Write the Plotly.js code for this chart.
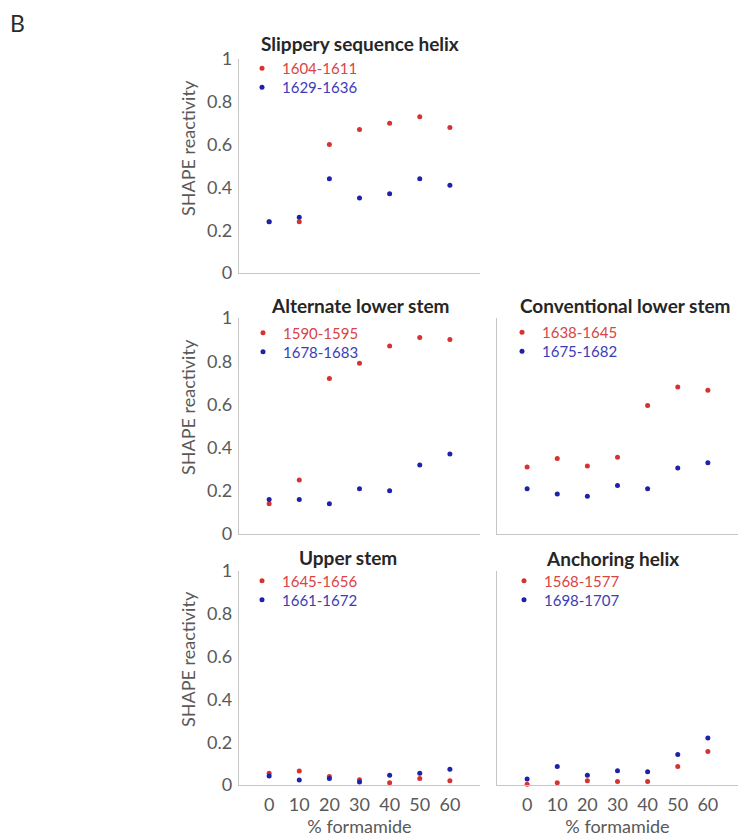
<!DOCTYPE html>
<html>
<head>
<meta charset="utf-8">
<script src="https://cdn.plot.ly/plotly-3.0.1.min.js"></script>
<style>html,body{margin:0;padding:0;background:#fff;}#chart{width:738px;height:839px;}</style>
</head>
<body>
<div id="chart"></div>
<script>
// ---------------- data ----------------
const formamide = [0, 10, 20, 30, 40, 50, 60];
const xTickLabels = ['0', '10', '20', '30', '40', '50', '60'];
const yTickVals = [0, 0.2, 0.4, 0.6, 0.8, 1];
const yTickLabels = ['0', '0.2', '0.4', '0.6', '0.8', '1'];

const panelTitles = ['Slippery sequence helix', 'Alternate lower stem', 'Conventional lower stem', 'Upper stem', 'Anchoring helix'];
const redNames  = ['1604-1611', '1590-1595', '1638-1645', '1645-1656', '1568-1577'];
const blueNames = ['1629-1636', '1678-1683', '1675-1682', '1661-1672', '1698-1707'];

const slipperyRed  = [0.24, 0.24, 0.60, 0.67, 0.70, 0.73, 0.68];
const slipperyBlue = [0.24, 0.26, 0.44, 0.35, 0.37, 0.44, 0.41];
const altLowerRed  = [0.14, 0.25, 0.72, 0.79, 0.87, 0.91, 0.90];
const altLowerBlue = [0.16, 0.16, 0.14, 0.21, 0.20, 0.32, 0.37];
const convLowerRed  = [0.31, 0.35, 0.315, 0.355, 0.595, 0.68, 0.665];
const convLowerBlue = [0.21, 0.185, 0.175, 0.225, 0.21, 0.305, 0.33];
const upperRed  = [0.055, 0.065, 0.04, 0.025, 0.01, 0.03, 0.02];
const upperBlue = [0.042, 0.023, 0.03, 0.014, 0.045, 0.055, 0.074];
const anchorRed  = [0.004, 0.011, 0.02, 0.016, 0.016, 0.086, 0.156];
const anchorBlue = [0.028, 0.086, 0.045, 0.067, 0.062, 0.142, 0.22];

const redSeries  = [slipperyRed, altLowerRed, convLowerRed, upperRed, anchorRed];
const blueSeries = [slipperyBlue, altLowerBlue, convLowerBlue, upperBlue, anchorBlue];

// ---------------- styling / layout ----------------
const W = 738, H = 839;
const FONT = 'Lato, "Open Sans", sans-serif';
const RED = '#d63232', BLUE = '#1e22a6';
const RED_TXT = '#d94444', BLUE_TXT = '#3b3db8';
const px = v => v / W;
const py = v => 1 - v / H;

// panel pixel boxes: [left, right, top(y=1), bottom(y=0)]
const boxes = [
  [239, 480, 59, 273],
  [239, 480, 318, 534],
  [497, 738, 318, 534],
  [239, 480, 571, 785],
  [497, 738, 571, 785]
];
const titlePos = [[360, 44], [360, 305], [625, 306], [348, 557], [612, 558]];
const legendPos = [[262, 68.5, 87.5], [263, 333, 352], [522, 332.5, 351.5], [262, 581, 600], [524, 581, 600]];
const yTitlePos = [148, 407, 659];

const traces = [];
const layout = {
  width: W, height: H, autosize: false,
  margin: {l: 0, r: 0, t: 0, b: 0, pad: 0},
  paper_bgcolor: '#ffffff', plot_bgcolor: '#ffffff',
  font: {family: FONT, size: 18, color: '#595959'},
  showlegend: true,
  annotations: []
};

boxes.forEach((b, i) => {
  const k = i === 0 ? '' : String(i + 1);
  const xa = 'x' + k, ya = 'y' + k;
  const bottomRow = i >= 3;
  const leftCol = (i === 0 || i === 1 || i === 3);
  layout['xaxis' + k] = {
    domain: [px(b[0]), px(b[1])], anchor: ya, range: [-10, 70],
    showline: true, linecolor: '#c6c6c6', linewidth: 1.2, zeroline: false, showgrid: false,
    ticks: '', tickvals: formamide, ticktext: xTickLabels,
    showticklabels: bottomRow, ticklabelstandoff: 3,
    tickfont: {family: FONT, size: 18, color: '#595959'},
    title: bottomRow ? {text: '% formamide', standoff: 3, font: {family: FONT, size: 18, color: '#595959'}} : {text: ''},
    fixedrange: true
  };
  layout['yaxis' + k] = {
    domain: [py(b[3]), py(b[2])], anchor: xa, range: [0, 1],
    showline: true, linecolor: '#c6c6c6', linewidth: 1.2, zeroline: false, showgrid: false,
    ticks: '', tickvals: yTickVals, ticktext: yTickLabels,
    showticklabels: leftCol, ticklabelstandoff: 2,
    tickfont: {family: FONT, size: 18, color: '#595959'},
    fixedrange: true
  };
  const lg = i === 0 ? 'legend' : 'legend' + (2 * i + 1);
  const lg2 = 'legend' + (2 * i + 2);
  traces.push({
    type: 'scatter', mode: 'markers', x: formamide, y: redSeries[i], xaxis: xa, yaxis: ya,
    name: redNames[i], legend: lg, cliponaxis: false,
    marker: {color: RED, size: 5, symbol: 'circle'}
  });
  traces.push({
    type: 'scatter', mode: 'markers', x: formamide, y: blueSeries[i], xaxis: xa, yaxis: ya,
    name: blueNames[i], legend: lg2, cliponaxis: false,
    marker: {color: BLUE, size: 5, symbol: 'circle'}
  });
  const lp = legendPos[i];
  const mkLegend = (yy, col) => ({
    x: px(lp[0] - 20), y: py(yy), xanchor: 'left', yanchor: 'middle',
    bgcolor: 'rgba(0,0,0,0)', borderwidth: 0,
    font: {family: FONT, size: 15, color: col}
  });
  layout[lg] = mkLegend(lp[1], RED_TXT);
  layout[lg2] = mkLegend(lp[2], BLUE_TXT);

  layout.annotations.push({
    xref: 'paper', yref: 'paper', x: px(titlePos[i][0]), y: py(titlePos[i][1]),
    xanchor: 'center', yanchor: 'middle', showarrow: false,
    text: '<b>' + panelTitles[i] + '</b>',
    font: {family: FONT, size: 19, color: '#262626'}
  });
});

yTitlePos.forEach(yy => {
  layout.annotations.push({
    xref: 'paper', yref: 'paper', x: px(188), y: py(yy),
    xanchor: 'center', yanchor: 'middle', showarrow: false, textangle: -90,
    text: 'SHAPE reactivity', font: {family: FONT, size: 18, color: '#595959'}
  });
});

layout.annotations.push({
  xref: 'paper', yref: 'paper', x: px(17), y: py(23),
  xanchor: 'center', yanchor: 'middle', showarrow: false,
  text: 'B', font: {family: FONT, size: 23, color: '#2a2a2a'}
});

Plotly.newPlot('chart', traces, layout, {displayModeBar: false, staticPlot: true});
</script>
</body>
</html>
